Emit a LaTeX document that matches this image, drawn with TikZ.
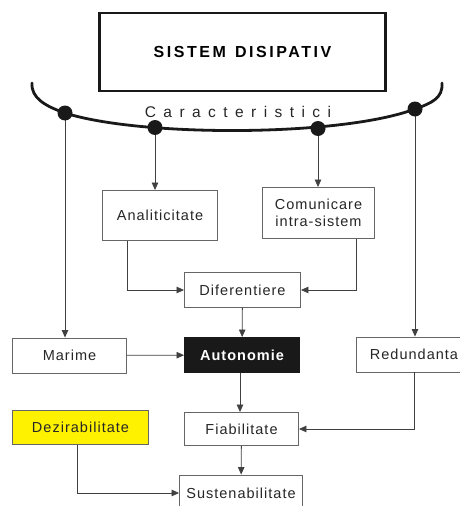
\documentclass[tikz,border=0pt]{standalone}
\usepackage{fontspec}
\setmainfont{Liberation Sans}
\newfontfamily\boxfont[LetterSpace=7]{Liberation Sans}
\newfontfamily\titlefont[LetterSpace=16]{Liberation Sans}
\newfontfamily\carfont[LetterSpace=48]{Liberation Sans}
\usetikzlibrary{arrows.meta}

\tikzset{
  casuta/.style={draw=black!60, line width=0.9pt, fill=white, text=black!85, inner sep=0pt,
    minimum height=35pt, font=\boxfont\fontsize{14.5}{17}\selectfont, align=center},
  sageata/.style={draw=black!75, line width=0.8pt, -{Triangle[length=7.5pt,width=6.5pt]}},
  punct/.style={circle, fill=black!90, inner sep=0pt, minimum size=15pt},
}

\begin{document}
\begin{tikzpicture}[x=1pt, y=-1pt]
    \useasboundingbox (0,0) rectangle (460,506);
    \clip (0,0) rectangle (460,506);

    % Titlu
    \node[draw=black!90, line width=2.6pt, minimum width=286pt, minimum height=78pt,
      font=\titlefont\bfseries\fontsize{16}{19}\selectfont] (titlu) at (242.5,52) {SISTEM\hspace{9pt}DISIPATIV};

    % Arc si puncte
    \draw[line width=2.8pt, line cap=round, black!90] (32,83) .. controls (31,98) and (45,106) .. (65,113)
      .. controls (140,137) and (340,137) .. (415,109) .. controls (432,103) and (443,98) .. (442,83);
    \coordinate (d1) at (65,113);
    \coordinate (d2) at (155,127.5);
    \coordinate (d3) at (318,128.5);
    \coordinate (d4) at (415,109);
    \node[font=\carfont\fontsize{15.5}{18}\selectfont, text=black!85, anchor=base] (caract) at (238,117) {Caracteristici};

    % Casute
    \node[casuta, minimum width=115pt, minimum height=50pt] (analit) at (160,215.5) {Analiticitate};
    \node[casuta, minimum width=112pt, minimum height=51pt] (comun) at (318.5,213) {Comunicare\\intra-sistem};
    \node[casuta, minimum width=116pt] (difer) at (242.5,290) {Diferentiere};
    \node[casuta, minimum width=114pt] (marime) at (69.5,355.5) {Marime};
    \node[casuta, fill=black!90, draw=black!90, text=white, font=\boxfont\bfseries\fontsize{14.5}{17}\selectfont,
      minimum width=115pt] (auton) at (242,355) {Autonomie};
    \node[casuta, minimum width=116pt] (redund) at (414,354.5) {Redundanta};
    \node[casuta, minimum width=114pt, minimum height=33pt] (fiab) at (241.5,429) {Fiabilitate};
    \node[casuta, fill=yellow, minimum width=136pt, minimum height=34pt] (dezir) at (80.5,427.5) {Dezirabilitate};
    \node[casuta, minimum width=123pt, minimum height=36pt] (susten) at (241,493) {Sustenabilitate};

    % Sageti
    \draw[sageata] (d1) -- (d1 |- marime.north);
    \draw[sageata] (d2) -- (d2 |- analit.north);
    \draw[sageata] (d3) -- (d3 |- comun.north);
    \draw[sageata] (d4) -- (d4 |- redund.north);
    \draw[sageata] ([xshift=-33pt]analit.south) |- (difer.west);
    \draw[sageata] ([xshift=37.5pt]comun.south) |- (difer.east);
    \draw[sageata] (difer) -- (auton);
    \draw[sageata] (marime) -- (auton);
    \draw[sageata] ([xshift=-2pt]auton.south) -- ([xshift=-2pt]auton.south |- fiab.north);
    \draw[sageata] (redund.south) |- (fiab.east);
    \draw[sageata] (fiab) -- (susten);
    \draw[sageata] ([xshift=-3.5pt]dezir.south) |- (susten.west);

    \foreach \p in {d1,d2,d3,d4}
      \node[punct] at (\p) {};
\end{tikzpicture}
\end{document}
